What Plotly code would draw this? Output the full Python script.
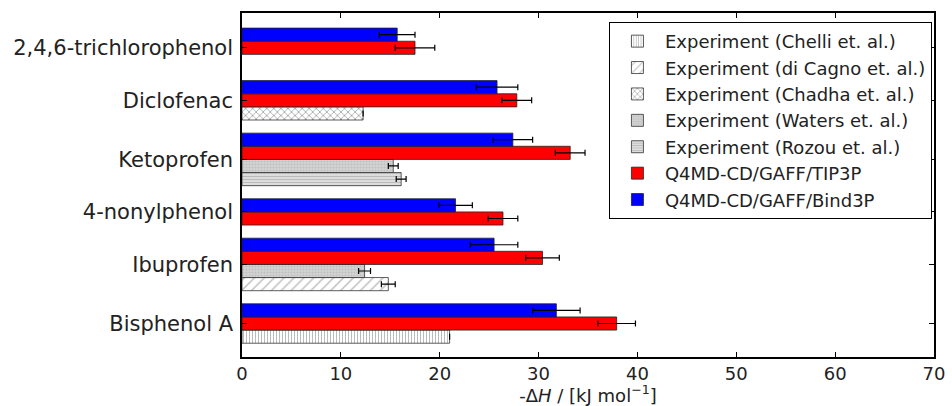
import plotly.graph_objects as go

# Categories, top to bottom
categories = ["2,4,6-trichlorophenol", "Diclofenac", "Ketoprofen",
              "4-nonylphenol", "Ibuprofen", "Bisphenol A"]

# Simulations (kJ/mol)
bind3p = [15.7, 25.8, 27.4, 21.6, 25.5, 31.8]
bind3p_err = [1.8, 2.1, 2.0, 1.7, 2.4, 2.4]
tip3p = [17.5, 27.8, 33.2, 26.4, 30.4, 37.9]
tip3p_err = [2.0, 1.5, 1.5, 1.5, 1.7, 1.9]

# Experiments: category -> value / error
chelli_cat = ["Bisphenol A"]
chelli_val = [21.0]
chelli_err = [0.0]
dicagno_cat = ["Ibuprofen"]
dicagno_val = [14.8]
dicagno_err = [0.7]
chadha_cat = ["Diclofenac"]
chadha_val = [12.25]
chadha_err = [0.0]
waters_cat = ["Ketoprofen", "Ibuprofen"]
waters_val = [15.3, 12.4]
waters_err = [0.5, 0.6]
rozou_cat = ["Ketoprofen"]
rozou_val = [16.1]
rozou_err = [0.5]

# slot order of experiments inside each group (below the two simulation bars)
exp_order = {
    "2,4,6-trichlorophenol": [None],
    "Diclofenac": ["Chadha"],
    "Ketoprofen": ["Waters", "Rozou"],
    "4-nonylphenol": [],
    "Ibuprofen": ["Waters", "di Cagno"],
    "Bisphenol A": ["Chelli"],
}

# ---- layout of slots (1 slot = 1 bar height) ----
top_margin = 1.15
gap = 1.0
group_start = {}
pos = top_margin
for c in categories:
    group_start[c] = pos
    pos += 2 + len(exp_order[c]) + gap
y_max = pos - gap + 1.05
tick_pos = [group_start[c] + (2 + len(exp_order[c])) / 2 for c in categories]

def slot_y(cat, k):
    return group_start[cat] + k + 0.5

def exp_y(cat, name):
    return slot_y(cat, 2 + exp_order[cat].index(name))

fig = go.Figure()

def add_exp(name, cats, vals, errs, shape, fg, bg, size, sol):
    fig.add_trace(go.Bar(
        name=f"Experiment ({name} et. al.)",
        y=[exp_y(c, name) for c in cats], x=vals, orientation="h", width=1.0,
        marker=dict(color=bg, line=dict(color="#333333", width=0.8),
                    pattern=dict(shape=shape, fgcolor=fg, bgcolor=bg, size=size,
                                 solidity=sol, fillmode="overlay")),
        error_x=dict(type="data", array=errs, visible=True, color="black",
                     thickness=1.2, width=3),
    ))

add_exp("Chelli", chelli_cat, chelli_val, chelli_err, "|", "#777777", "white", 3, 0.35)
add_exp("di Cagno", dicagno_cat, dicagno_val, dicagno_err, "/", "#777777", "white", 7, 0.2)
add_exp("Chadha", chadha_cat, chadha_val, chadha_err, "x", "#444444", "white", 5, 0.3)
add_exp("Waters", waters_cat, waters_val, waters_err, ".", "#aaaaaa", "#d4d4d4", 3, 0.4)
add_exp("Rozou", rozou_cat, rozou_val, rozou_err, "-", "#999999", "#dddddd", 3, 0.35)

fig.add_trace(go.Bar(
    name="Q4MD-CD/GAFF/TIP3P",
    y=[slot_y(c, 1) for c in categories], x=tip3p, orientation="h", width=1.0,
    marker=dict(color="#ff0000", line=dict(color="#222222", width=0.8)),
    error_x=dict(type="data", array=tip3p_err, visible=True, color="black",
                 thickness=1.2, width=3),
))
fig.add_trace(go.Bar(
    name="Q4MD-CD/GAFF/Bind3P",
    y=[slot_y(c, 0) for c in categories], x=bind3p, orientation="h", width=1.0,
    marker=dict(color="#0000ff", line=dict(color="#222222", width=0.8)),
    error_x=dict(type="data", array=bind3p_err, visible=True, color="black",
                 thickness=1.2, width=3),
))

fig.update_layout(
    width=952, height=406,
    margin=dict(l=242, r=18, t=13, b=49, autoexpand=False),
    paper_bgcolor="white", plot_bgcolor="white",
    barmode="overlay",
    font=dict(family="DejaVu Sans", size=18, color="#222222"),
    showlegend=True,
    legend=dict(x=0.997, xanchor="right", y=0.974, yanchor="top",
                bordercolor="black", borderwidth=1, bgcolor="white",
                font=dict(size=18), traceorder="normal", itemwidth=45,
                tracegroupgap=0),
    xaxis=dict(range=[0, 70], dtick=10, showgrid=False, zeroline=False,
               automargin=False,
               showline=True, linecolor="black", linewidth=1.5, mirror="ticks",
               ticks="inside", ticklen=5, tickcolor="black",
               tickfont=dict(size=18),
               title=dict(text="-Δ<i>H</i> / [kJ mol<sup>−1</sup>]",
                          font=dict(size=18), standoff=9)),
    yaxis=dict(range=[y_max, 0], showgrid=False, zeroline=False,
               automargin=False,
               showline=True, linecolor="black", linewidth=1.5, mirror="ticks",
               ticks="inside", ticklen=5, tickcolor="black",
               tickvals=tick_pos, ticktext=categories,
               ticklabelstandoff=3,
               tickfont=dict(size=21)),
)

fig.write_html("out.html",
               config={"displayModeBar": False},
               post_script="document.body.style.margin='0';document.body.style.overflow='hidden';")
